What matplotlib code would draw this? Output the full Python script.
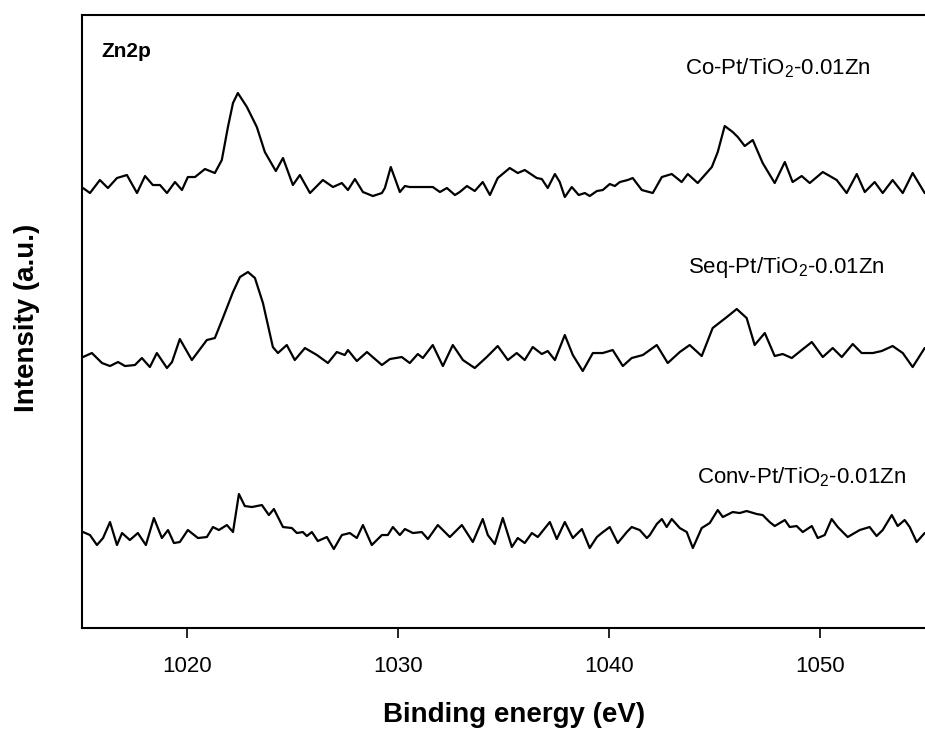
import matplotlib
matplotlib.use("Agg")
import matplotlib.pyplot as plt

plt.rcParams['font.family'] = ['Liberation Sans', 'DejaVu Sans']
plt.rcParams['mathtext.fontset'] = 'custom'
plt.rcParams['mathtext.rm'] = 'Liberation Sans'
plt.rcParams['mathtext.default'] = 'regular'

# Zn 2p spectra, stacked (intensity in arbitrary units, already offset)
be_co = [1015.05, 1015.38, 1015.85, 1016.23, 1016.66, 1017.13, 1017.61, 1017.99, 1018.36, 1018.70,
         1019.03, 1019.41, 1019.74, 1020.02, 1020.36, 1020.83, 1021.30, 1021.63, 1021.92, 1022.16,
         1022.39, 1022.82, 1023.29, 1023.67, 1024.19, 1024.53, 1025.00, 1025.33, 1025.81, 1026.42,
         1026.90, 1027.32, 1027.61, 1027.94, 1028.32, 1028.79, 1029.22, 1029.36, 1029.64, 1029.83,
         1030.07, 1030.31, 1030.54, 1031.35, 1031.63, 1031.97, 1032.30, 1032.68, 1032.91, 1033.25,
         1033.62, 1034.00, 1034.34, 1034.71, 1035.28, 1035.66, 1035.99, 1036.56, 1036.80, 1037.08,
         1037.42, 1037.65, 1037.89, 1038.22, 1038.55, 1038.84, 1039.07, 1039.41, 1039.69, 1040.02,
         1040.26, 1040.50, 1040.87, 1041.11, 1041.54, 1042.06, 1042.49, 1042.96, 1043.43, 1043.72,
         1044.19, 1044.86, 1045.14, 1045.47, 1045.85, 1046.09, 1046.42, 1046.80, 1047.27, 1047.84,
         1048.32, 1048.69, 1049.12, 1049.50, 1050.12, 1050.78, 1051.25, 1051.73, 1052.11, 1052.58,
         1052.96, 1053.43, 1053.91, 1054.38, 1054.95]
int_co = [440, 435, 448, 440, 450, 453, 435, 452, 443, 443,
          435, 446, 438, 451, 451, 459, 455, 468, 501, 525,
          535, 521, 501, 476, 457, 470, 443, 453, 435, 448,
          441, 445, 438, 449, 436, 432, 435, 440, 461, 450,
          436, 442, 441, 441, 441, 436, 440, 433, 436, 442,
          437, 446, 433, 450, 460, 455, 458, 450, 449, 440,
          454, 446, 431, 441, 433, 435, 432, 437, 438, 444,
          442, 446, 448, 450, 438, 435, 451, 454, 446, 454,
          445, 461, 476, 502, 496, 491, 482, 488, 465, 445,
          466, 446, 452, 445, 456, 448, 435, 454, 436, 446,
          435, 448, 435, 455, 435]

be_seq = [1015.05, 1015.47, 1015.95, 1016.33, 1016.71, 1017.04, 1017.51, 1017.84, 1018.22, 1018.55,
          1019.03, 1019.27, 1019.64, 1020.21, 1020.92, 1021.30, 1021.68, 1022.16, 1022.49, 1022.87,
          1023.20, 1023.58, 1024.05, 1024.29, 1024.71, 1025.09, 1025.57, 1026.14, 1026.66, 1027.08,
          1027.46, 1027.61, 1028.03, 1028.51, 1029.22, 1029.60, 1030.16, 1030.54, 1030.92, 1031.16,
          1031.63, 1032.11, 1032.58, 1033.06, 1033.62, 1034.19, 1034.71, 1035.19, 1035.61, 1035.99,
          1036.37, 1036.80, 1037.08, 1037.42, 1037.89, 1038.27, 1038.74, 1039.22, 1039.69, 1040.16,
          1040.64, 1041.06, 1041.59, 1042.25, 1042.77, 1043.34, 1043.81, 1044.38, 1044.90, 1045.57,
          1046.04, 1046.51, 1046.89, 1047.37, 1047.84, 1048.22, 1048.65, 1049.12, 1049.60, 1050.12,
          1050.59, 1051.02, 1051.54, 1051.96, 1052.49, 1052.91, 1053.43, 1053.91, 1054.38, 1054.95]
int_seq = [271, 275, 265, 262, 266, 262, 263, 270, 261, 275,
           260, 266, 289, 268, 288, 290, 310, 336, 351, 356,
           350, 325, 281, 275, 283, 268, 280, 273, 265, 276,
           273, 278, 267, 276, 263, 269, 271, 265, 274, 270,
           283, 262, 283, 268, 260, 271, 282, 268, 275, 268,
           281, 274, 277, 268, 293, 273, 257, 275, 275, 278,
           262, 270, 273, 283, 265, 276, 283, 272, 300, 311,
           319, 310, 283, 295, 272, 274, 270, 278, 286, 271,
           280, 271, 284, 275, 275, 277, 282, 275, 261, 280]

be_conv = [1015.05, 1015.38, 1015.71, 1016.00, 1016.33, 1016.66, 1016.90, 1017.27, 1017.65, 1018.03,
           1018.41, 1018.79, 1019.08, 1019.36, 1019.64, 1020.02, 1020.50, 1020.92, 1021.21, 1021.49,
           1021.87, 1022.16, 1022.44, 1022.72, 1023.06, 1023.53, 1023.86, 1024.10, 1024.53, 1024.95,
           1025.19, 1025.47, 1025.66, 1025.90, 1026.18, 1026.61, 1026.94, 1027.32, 1027.70, 1028.03,
           1028.32, 1028.74, 1029.22, 1029.50, 1029.74, 1030.07, 1030.31, 1030.69, 1031.11, 1031.40,
           1031.87, 1032.44, 1033.01, 1033.53, 1034.00, 1034.24, 1034.57, 1034.95, 1035.38, 1035.66,
           1035.99, 1036.33, 1036.61, 1037.18, 1037.51, 1037.89, 1038.27, 1038.70, 1039.07, 1039.41,
           1039.64, 1040.02, 1040.40, 1040.83, 1041.06, 1041.44, 1041.78, 1041.92, 1042.25, 1042.49,
           1042.72, 1042.96, 1043.34, 1043.67, 1043.96, 1044.38, 1044.76, 1045.14, 1045.38, 1045.85,
           1046.18, 1046.51, 1046.99, 1047.27, 1047.60, 1047.84, 1048.32, 1048.55, 1048.88, 1049.17,
           1049.60, 1049.88, 1050.21, 1050.54, 1050.83, 1051.30, 1051.87, 1052.34, 1052.67, 1052.96,
           1053.39, 1053.67, 1054.00, 1054.24, 1054.57, 1054.95]
int_conv = [96, 93, 83, 90, 106, 83, 95, 88, 95, 83,
            110, 90, 98, 85, 86, 98, 90, 91, 101, 98,
            103, 96, 134, 122, 121, 123, 113, 119, 101, 100,
            95, 96, 92, 96, 87, 91, 79, 93, 95, 90,
            103, 83, 93, 93, 101, 93, 99, 95, 96, 89,
            103, 91, 103, 86, 109, 93, 84, 110, 81, 90,
            85, 95, 91, 106, 89, 106, 90, 99, 80, 91,
            95, 101, 85, 96, 101, 98, 90, 93, 104, 109,
            101, 109, 100, 96, 80, 100, 105, 118, 111, 116,
            115, 117, 114, 113, 106, 102, 108, 101, 102, 96,
            102, 90, 93, 109, 101, 91, 98, 101, 92, 98,
            113, 102, 108, 101, 86, 95]

labels = ['Co-Pt/TiO$_2$-0.01Zn', 'Seq-Pt/TiO$_2$-0.01Zn', 'Conv-Pt/TiO$_2$-0.01Zn']
label_pos = [(1043.58, 554), (1043.72, 355), (1044.15, 145)]

fig = plt.figure(figsize=(9.25, 7.29), dpi=100)
ax = fig.add_axes([0.0886, 0.1385, 0.935, 0.8409])

for x, y in [(be_co, int_co), (be_seq, int_seq), (be_conv, int_conv)]:
    ax.plot(x, y, color='black', lw=1.6, solid_joinstyle='round', solid_capstyle='round')

for lab, (lx, ly) in zip(labels, label_pos):
    ax.text(lx, ly, lab, fontsize=16, ha='left', va='baseline')

ax.text(0.023, 0.931, 'Zn2p', transform=ax.transAxes, fontsize=15,
        fontweight='bold', ha='left', va='baseline')

ax.set_xlim(1015, 1056)
ax.set_ylim(0, 613)
ax.set_xticks([1020, 1030, 1040, 1050])
ax.set_yticks([])
ax.tick_params(axis='x', direction='out', length=7, width=1.2, pad=13, labelsize=16)
for s in ax.spines.values():
    s.set_linewidth(1.5)

ax.set_xlabel('Binding energy (eV)', fontsize=20, fontweight='bold', labelpad=18)
ax.set_ylabel('Intensity (a.u.)', fontsize=20, fontweight='bold')
ax.yaxis.set_label_coords(-0.048, 0.506)

plt.savefig('out.png', dpi=100)
